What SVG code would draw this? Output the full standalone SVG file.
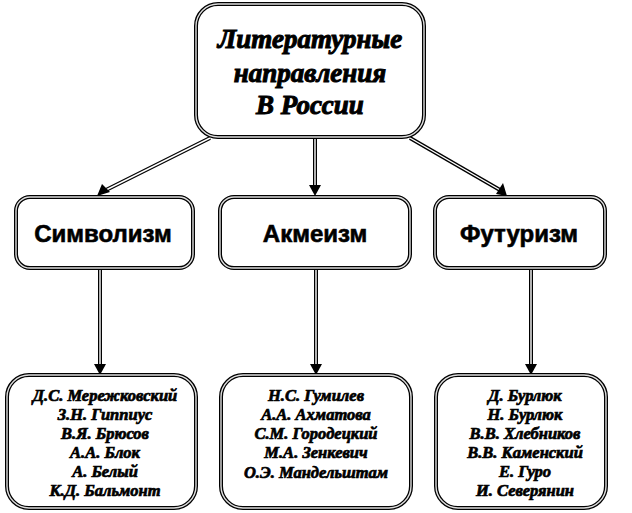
<svg xmlns="http://www.w3.org/2000/svg" width="632" height="513" viewBox="0 0 632 513">
<style>
.bo{fill:#fff;stroke:#000;stroke-width:4}
.bi{fill:none;stroke:#ddd;stroke-width:1.4}
.lo{fill:none;stroke:#000;stroke-width:4}
.li{fill:none;stroke:#fff;stroke-width:1.4}
.t1{font-family:"Liberation Serif",serif;font-weight:bold;font-style:italic;font-size:27px;text-anchor:middle;stroke:#000;stroke-width:1}
.t2{font-family:"Liberation Sans",Arial,sans-serif;font-weight:bold;font-size:24px;text-anchor:middle;stroke:#000;stroke-width:0.6}
.t3{font-family:"Liberation Serif",serif;font-weight:bold;font-style:italic;font-size:16.5px;text-anchor:middle;stroke:#000;stroke-width:0.7}
</style>
<g id="connectors">
<path class="lo" d="M210,138 L106,190"/><path class="li" d="M210,138 L106,190"/>
<path d="M97,196 L102,184 L110,192 z" fill="#000"/>
<path class="lo" d="M315,138 L315,186"/><path class="li" d="M315,138 L315,186"/>
<path d="M309,185 L321,185 L315,196 z" fill="#000"/>
<path class="lo" d="M410,138 L500,190"/><path class="li" d="M410,138 L500,190"/>
<path d="M507,196 L496,194 L503,183 z" fill="#000"/>
<path class="lo" d="M100,268 L100,365"/><path class="li" d="M100,268 L100,365"/>
<path d="M94,364 L106,364 L100,375 z" fill="#000"/>
<path class="lo" d="M316,268 L316,365"/><path class="li" d="M316,268 L316,365"/>
<path d="M310,364 L322,364 L316,375 z" fill="#000"/>
<path class="lo" d="M531,268 L531,365"/><path class="li" d="M531,268 L531,365"/>
<path d="M525,364 L537,364 L531,375 z" fill="#000"/>
</g>
<g id="root">
<rect class="bo" x="196" y="4" width="228" height="133" rx="22"/>
<rect class="bi" x="196" y="4" width="228" height="133" rx="22"/>
<text class="t1" x="310" y="48">Литературные</text>
<text class="t1" x="310" y="82">направления</text>
<text class="t1" x="310" y="114">В России</text>
</g>
<g id="symbolism">
<rect class="bo" x="16" y="197" width="177" height="71" rx="14"/>
<rect class="bi" x="16" y="197" width="177" height="71" rx="14"/>
<text class="t2" x="103" y="242">Символизм</text>
</g>
<g id="acmeism">
<rect class="bo" x="220" y="197" width="190" height="71" rx="14"/>
<rect class="bi" x="220" y="197" width="190" height="71" rx="14"/>
<text class="t2" x="315" y="242">Акмеизм</text>
</g>
<g id="futurism">
<rect class="bo" x="435" y="197" width="170" height="71" rx="14"/>
<rect class="bi" x="435" y="197" width="170" height="71" rx="14"/>
<text class="t2" x="519" y="242">Футуризм</text>
</g>
<g id="symbolists">
<rect class="bo" x="7" y="375" width="189" height="133" rx="22"/>
<rect class="bi" x="7" y="375" width="189" height="133" rx="22"/>
<text class="t3" x="105" y="401">Д.С. Мережковский</text>
<text class="t3" x="105" y="420">З.Н. Гиппиус</text>
<text class="t3" x="105" y="439">В.Я. Брюсов</text>
<text class="t3" x="105" y="458">А.А. Блок</text>
<text class="t3" x="105" y="477">А. Белый</text>
<text class="t3" x="105" y="496">К.Д. Бальмонт</text>
</g>
<g id="acmeists">
<rect class="bo" x="221" y="375" width="190" height="133" rx="22"/>
<rect class="bi" x="221" y="375" width="190" height="133" rx="22"/>
<text class="t3" x="316" y="401">Н.С. Гумилев</text>
<text class="t3" x="316" y="420">А.А. Ахматова</text>
<text class="t3" x="316" y="439">С.М. Городецкий</text>
<text class="t3" x="316" y="458">М.А. Зенкевич</text>
<text class="t3" x="316" y="478">О.Э. Мандельштам</text>
</g>
<g id="futurists">
<rect class="bo" x="436" y="375" width="170" height="133" rx="22"/>
<rect class="bi" x="436" y="375" width="170" height="133" rx="22"/>
<text class="t3" x="525" y="401">Д. Бурлюк</text>
<text class="t3" x="525" y="420">Н. Бурлюк</text>
<text class="t3" x="525" y="439">В.В. Хлебников</text>
<text class="t3" x="525" y="458">В.В. Каменский</text>
<text class="t3" x="525" y="477">Е. Гуро</text>
<text class="t3" x="525" y="496">И. Северянин</text>
</g>
</svg>
